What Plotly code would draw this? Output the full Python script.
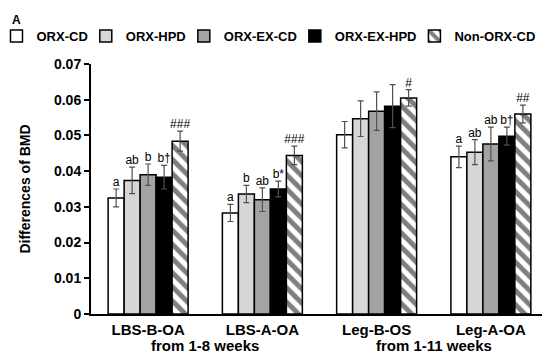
import plotly.graph_objects as go

categories = ["LBS-B-OA", "LBS-A-OA", "Leg-B-OS", "Leg-A-OA"]
series_names = ["ORX-CD", "ORX-HPD", "ORX-EX-CD", "ORX-EX-HPD", "Non-ORX-CD"]

orx_cd = [0.0325, 0.0283, 0.0502, 0.0440]
orx_hpd = [0.0374, 0.0336, 0.0547, 0.0453]
orx_ex_cd = [0.0390, 0.0320, 0.0568, 0.0476]
orx_ex_hpd = [0.0383, 0.0350, 0.0582, 0.0498]
non_orx_cd = [0.0484, 0.0444, 0.0605, 0.0560]

err_orx_cd = [0.0025, 0.0024, 0.0037, 0.0030]
err_orx_hpd = [0.0037, 0.0024, 0.0050, 0.0035]
err_orx_ex_cd = [0.0030, 0.0033, 0.0054, 0.0047]
err_orx_ex_hpd = [0.0033, 0.0022, 0.0060, 0.0025]
err_non_orx_cd = [0.0028, 0.0026, 0.0023, 0.0025]

lbl_orx_cd = ["a", "a", "", "a"]
lbl_orx_hpd = ["ab", "b", "", "ab"]
lbl_orx_ex_cd = ["b", "ab", "", "ab"]
lbl_orx_ex_hpd = ["b†", "b*", "", "b†"]
lbl_non_orx_cd = ["###", "###", "#", "##"]

period_labels = ["from 1-8 weeks", "from 1-11 weeks"]
y_tickvals = [0, 0.01, 0.02, 0.03, 0.04, 0.05, 0.06, 0.07]
y_ticktext = ["0", "0.01", "0.02", "0.03", "0.04", "0.05", "0.06", "0.07"]

values = [orx_cd, orx_hpd, orx_ex_cd, orx_ex_hpd, non_orx_cd]
errors = [err_orx_cd, err_orx_hpd, err_orx_ex_cd, err_orx_ex_hpd, err_non_orx_cd]
labels = [lbl_orx_cd, lbl_orx_hpd, lbl_orx_ex_cd, lbl_orx_ex_hpd, lbl_non_orx_cd]
fills = ["#ffffff", "#d6d6d6", "#a3a3a3", "#000000", "#ffffff"]
legend_ids = ["legend", "legend2", "legend3", "legend4", "legend5"]
legend_x = [-0.2068, -0.0114, 0.2031, 0.4460, 0.7077]

FONT = "Liberation Sans, Arial, sans-serif"

fig = go.Figure()
for i, name in enumerate(series_names):
    marker = dict(color=fills[i], line=dict(color="#000000", width=1.5))
    if name == "Non-ORX-CD":
        marker["pattern"] = dict(shape="\\", fgcolor="#000000", bgcolor="#ffffff",
                                 size=10, solidity=0.5)
    fig.add_trace(go.Bar(
        x=categories, y=values[i], name=name, marker=marker,
        offsetgroup=str(i), alignmentgroup="g", legend=legend_ids[i],
        error_y=dict(type="data", array=errors[i], visible=True,
                     color="#505050", thickness=1.2, width=3),
    ))
for i, name in enumerate(series_names):
    fig.add_trace(go.Scatter(
        x=categories, y=[v + e for v, e in zip(values[i], errors[i])],
        text=labels[i], mode="text", textposition="top center",
        textfont=dict(family=FONT, size=12, color="#000000"),
        offsetgroup=str(i), alignmentgroup="g", showlegend=False,
        hoverinfo="skip",
    ))

fig.add_annotation(x=0.5, y=-0.168, xref="x", yref="paper", text="<b>%s</b>" % period_labels[0],
                   showarrow=False, font=dict(family=FONT, size=15, color="#000000"))
fig.add_annotation(x=2.5, y=-0.168, xref="x", yref="paper", text="<b>%s</b>" % period_labels[1],
                   showarrow=False, font=dict(family=FONT, size=15, color="#000000"))
fig.add_annotation(x=-0.164, y=1.176, xref="paper", yref="paper", text="<b>A</b>",
                   showarrow=False, xanchor="center", yanchor="middle",
                   font=dict(family=FONT, size=12, color="#000000"))

legend_common = dict(orientation="h", xanchor="left", yanchor="middle",
                     yref="paper", y=1.112, bgcolor="rgba(0,0,0,0)",
                     font=dict(family=FONT, size=13, color="#000000", weight="bold"),
                     itemwidth=30)
layout_legends = {}
for lid, lx in zip(legend_ids, legend_x):
    layout_legends[lid] = dict(legend_common, x=lx)

fig.update_layout(
    width=550, height=356,
    margin=dict(l=83, r=10, t=56, b=50, autoexpand=False),
    paper_bgcolor="#ffffff", plot_bgcolor="#ffffff",
    barmode="group", bargap=0.3, bargroupgap=0,
    scattermode="group", scattergap=0.3,
    font=dict(family=FONT, size=14, color="#000000"),
    showlegend=True,
    **layout_legends,
)
fig.update_xaxes(showline=True, linecolor="#000000", linewidth=2, ticks="",
                 ticklabelstandoff=1,
                 tickfont=dict(family=FONT, size=15, weight="bold"), showgrid=False)
fig.update_yaxes(range=[0, 0.07], tickvals=y_tickvals, ticktext=y_ticktext,
                 showline=True, linecolor="#000000", linewidth=2,
                 ticks="outside", ticklen=5, tickwidth=1.5, tickcolor="#000000",
                 tickfont=dict(family=FONT, size=14, weight="bold"), showgrid=False,
                 zeroline=False,
                 title=dict(text="<b>Differences of BMD</b>", standoff=20,
                            font=dict(family=FONT, size=14)))

fig.write_html("out.html")
